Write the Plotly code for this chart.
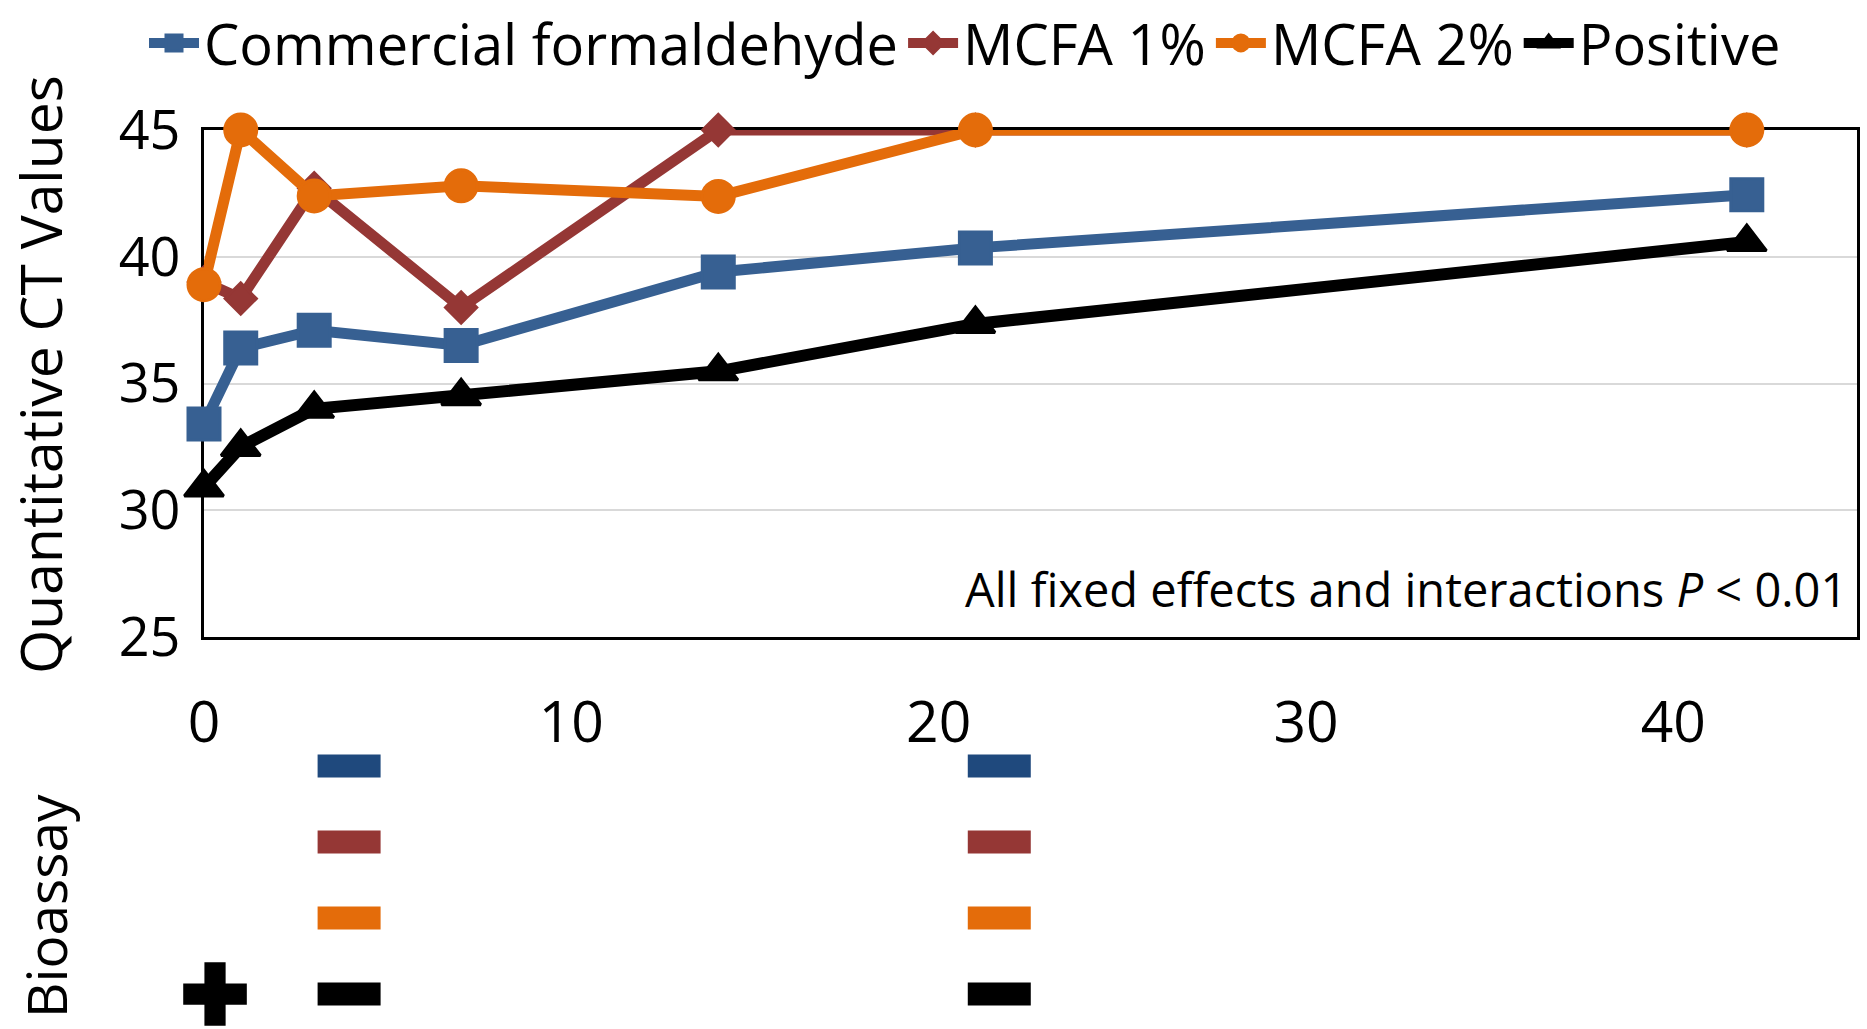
import plotly.graph_objects as go

# ---- data ----
days = [0, 1, 3, 7, 14, 21, 42]
commercial_formaldehyde = [33.4, 36.4, 37.1, 36.5, 39.4, 40.35, 42.45]
mcfa_1 = [39.0, 38.35, 42.7, 38.0, 45.0, 45.0, 45.0]
mcfa_2 = [38.9, 45.0, 42.4, 42.8, 42.38, 45.0, 45.0]
positive = [30.9, 32.5, 34.0, 34.5, 35.48, 37.35, 40.58]

series_names = ["Commercial formaldehyde", "MCFA 1%", "MCFA 2%", "Positive"]
series_values = [commercial_formaldehyde, mcfa_1, mcfa_2, positive]
series_colors = ["#376092", "#953735", "#E46C0A", "#000000"]
series_symbols = ["square", "diamond", "circle", "triangle-up"]

x_ticks = [0, 10, 20, 30, 40]
y_ticks = [25, 30, 35, 40, 45]

# bioassay panel: rows (one per treatment), negative marks and positive mark
bioassay_rows = [1, 2, 3, 4]
bioassay_neg_days = [3.95, 21.65]
bioassay_colors = ["#1F497D", "#953735", "#E46C0A", "#000000"]
bioassay_pos_day = [0.3]
bioassay_pos_row = [4]

annotation_text = "All fixed effects and interactions <i>P</i> &lt; 0.01"

FONT = "Open Sans"
W, H = 1867, 1029
L_MARGIN, R_MARGIN = 204, 10
PLOT_W = W - L_MARGIN - R_MARGIN


def paper_x(px):
    return (px - L_MARGIN) / PLOT_W


fig = go.Figure()

marker_sizes = {"square": 32, "diamond": 24, "circle": 32, "triangle-up": 34}
line_widths = {"square": 11, "diamond": 11, "circle": 11, "triangle-up": 12}
for name, vals, col, sym in zip(series_names, series_values, series_colors, series_symbols):
    fig.add_trace(go.Scatter(
        x=days, y=vals, name=name, mode="lines+markers",
        line=dict(color=col, width=line_widths[sym]),
        marker=dict(symbol=sym, size=marker_sizes[sym], color=col,
                    line=dict(color=col, width=3)),
        cliponaxis=False,
    ))

# bioassay negative marks
for row, col in zip(bioassay_rows, bioassay_colors):
    fig.add_trace(go.Scatter(
        x=bioassay_neg_days, y=[row] * len(bioassay_neg_days),
        mode="markers", xaxis="x", yaxis="y2", showlegend=False,
        marker=dict(symbol="line-ew", size=45, line=dict(color=col, width=23)),
        cliponaxis=False, hoverinfo="skip",
    ))
# bioassay positive mark
fig.add_trace(go.Scatter(
    x=bioassay_pos_day, y=bioassay_pos_row, mode="markers",
    xaxis="x", yaxis="y2", showlegend=False,
    marker=dict(symbol="cross", size=53, color="#000000"),
    cliponaxis=False, hoverinfo="skip",
))

plot_top, plot_bottom = 130, 637
fig.update_layout(
    width=W, height=H,
    margin=dict(l=L_MARGIN, r=R_MARGIN, t=0, b=0, autoexpand=False),
    paper_bgcolor="white", plot_bgcolor="white",
    font=dict(family=FONT, color="black"),
    showlegend=True,
    legend=dict(orientation="h", x=paper_x(965), xanchor="center", y=1.0, yanchor="top",
                font=dict(size=56, family=FONT), bgcolor="rgba(0,0,0,0)",
                itemwidth=50, tracegroupgap=0),
    xaxis=dict(range=[0, 45], tickvals=x_ticks, showgrid=False, zeroline=False,
               showline=True, linecolor="black", linewidth=2.5, mirror=True,
               ticks="", tickfont=dict(size=57, family=FONT), ticklabelstandoff=34,
               layer="below traces", anchor="y"),
    yaxis=dict(range=[25, 45], tickvals=y_ticks,
               domain=[1 - plot_bottom / H, 1 - plot_top / H],
               showgrid=True, gridcolor="#D9D9D9", gridwidth=2, zeroline=False,
               showline=True, linecolor="black", linewidth=2.5, mirror=True,
               ticks="", tickfont=dict(size=54, family=FONT), ticklabelstandoff=10,
               layer="below traces"),
    yaxis2=dict(domain=[0, 1 - 700 / H], range=[4.46, 0.132], anchor="x",
                showgrid=False, zeroline=False, showline=False, showticklabels=False,
                ticks="", visible=True),
    annotations=[
        dict(text=annotation_text, xref="x domain", yref="y domain",
             x=0.995, y=0.095, xanchor="right", yanchor="middle",
             showarrow=False, font=dict(size=47, family=FONT, color="black")),
        dict(text="Quantitative CT Values", xref="paper", yref="paper",
             x=paper_x(40), y=1 - 375 / H, xanchor="center", yanchor="middle",
             textangle=-90, showarrow=False,
             font=dict(size=57, family=FONT, color="black")),
        dict(text="Bioassay", xref="paper", yref="paper",
             x=paper_x(45), y=1 - 906 / H, xanchor="center", yanchor="middle",
             textangle=-90, showarrow=False,
             font=dict(size=55, family=FONT, color="black")),
    ],
)

fig.write_html("out.html")
